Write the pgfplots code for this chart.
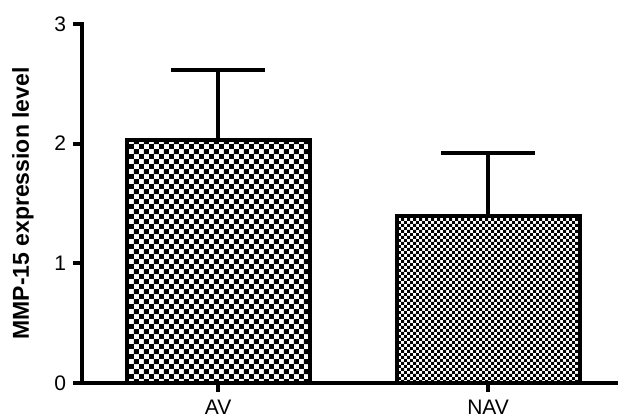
\documentclass[border=0pt]{standalone}
\usepackage{pgfplots}
\pgfplotsset{compat=1.18}
\usepackage{fontspec}
\setmainfont{Liberation Sans}
\usetikzlibrary{patterns}
\newlength\px
\setlength\px{0.5pt}
\pgfdeclarepatternformonly{checkA}{\pgfqpoint{0pt}{0pt}}{\pgfqpoint{5pt}{5pt}}{\pgfqpoint{5pt}{5pt}}{%
  \pgfpathrectangle{\pgfpointorigin}{\pgfqpoint{2.5pt}{2.5pt}}%
  \pgfpathrectangle{\pgfqpoint{2.5pt}{2.5pt}}{\pgfqpoint{2.5pt}{2.5pt}}%
  \pgfusepath{fill}}
\pgfdeclarepatternformonly{checkB}{\pgfqpoint{0pt}{0pt}}{\pgfqpoint{3pt}{3pt}}{\pgfqpoint{3pt}{3pt}}{%
  \pgfpathrectangle{\pgfpointorigin}{\pgfqpoint{1.5pt}{1.5pt}}%
  \pgfpathrectangle{\pgfqpoint{1.5pt}{1.5pt}}{\pgfqpoint{1.5pt}{1.5pt}}%
  \pgfusepath{fill}}
\begin{document}
\begin{tikzpicture}
\useasboundingbox (0,0) rectangle (618\px,419\px);
\begin{axis}[
  at={(82\px,36\px)}, anchor=south west,
  scale only axis,
  width=536\px, height=359\px,
  xmin=-0.504, xmax=1.481,
  ymin=0, ymax=3,
  axis x line=bottom, axis y line=left,
  axis line style={-, line width=2pt, line cap=rect},
  xtick={0,1}, xticklabels={AV,NAV},
  ytick={0,1,2,3},
  tick align=outside,
  major tick length=9\px,
  tick style={line width=2pt, black},
  tick label style={font=\fontsize{10.5pt}{12pt}\selectfont},
  xticklabel style={yshift=-0.5pt},
  /pgf/number format/assume math mode=true,
  ylabel={MMP-15 expression level},
  ylabel style={font=\bfseries\fontsize{11.5pt}{13pt}\selectfont, at={(axis description cs:-0.110,0.5)}, anchor=center},
  ybar, bar width=183\px, bar shift=0pt,
  clip=false,
]
\addplot[draw=black, line width=2pt, pattern=checkA, pattern color=black,
  error bars/.cd, y dir=plus, y explicit,
  error bar style={line width=2pt, black},
  error mark options={rotate=90, line width=2pt, mark size=23.5pt, black}]
  coordinates {(0,2.03) +- (0,0.585)};
\addplot[draw=black, line width=2pt, pattern=checkB, pattern color=black,
  error bars/.cd, y dir=plus, y explicit,
  error bar style={line width=2pt, black},
  error mark options={rotate=90, line width=2pt, mark size=23.5pt, black}]
  coordinates {(1,1.395) +- (0,0.53)};
\end{axis}
\end{tikzpicture}
\end{document}
